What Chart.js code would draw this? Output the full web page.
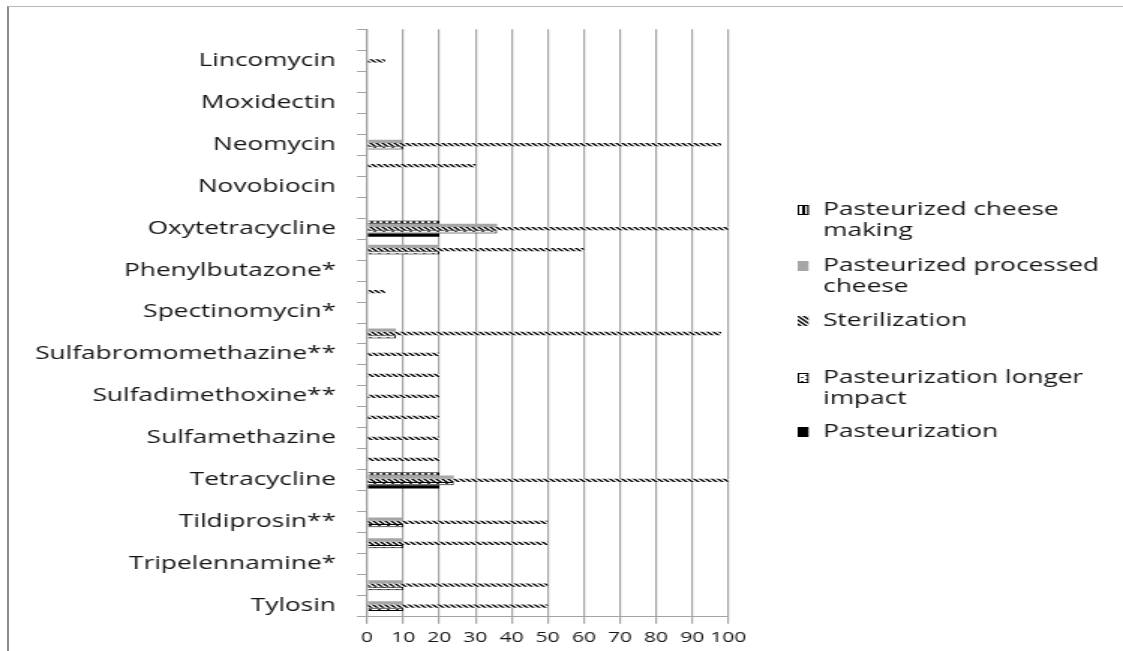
<!DOCTYPE html>
<html>
<head>
<meta charset="utf-8">
<script src="https://cdn.jsdelivr.net/npm/chart.js@4.4.0/dist/chart.umd.min.js"></script>
<style>
  html, body { margin: 0; padding: 0; background: #fff; overflow: hidden; }
  #frame { position: absolute; left: 7px; top: 6px; width: 1130px; height: 660px;
           border-left: 2px solid #8c8c8c; border-top: 1px solid #b8b8b8; }
  /* the source picture is stretched sideways, so the chart is too */
  #wrap { position: absolute; left: 0; top: 0; width: 749px; height: 651px;
          transform-origin: 0 0; transform: scaleX(1.4993); }
</style>
</head>
<body>
<div id="frame"></div>
<div id="wrap"><canvas id="DrugChart" width="749" height="651"></canvas></div>
<script>
// categories top to bottom; every other name is not shown in the source
var categories = ['', 'Lincomycin', '', 'Moxidectin', '', 'Neomycin', '', 'Novobiocin',
  '', 'Oxytetracycline', '', 'Phenylbutazone*', '', 'Spectinomycin*', '',
  'Sulfabromomethazine**', '', 'Sulfadimethoxine**', '', 'Sulfamethazine', '',
  'Tetracycline', '', 'Tildiprosin**', '', 'Tripelennamine*', '', 'Tylosin'];

var seriesNames = ['Pasteurized cheese making', 'Pasteurized processed cheese',
  'Sterilization', 'Pasteurization longer impact', 'Pasteurization'];

var cheeseMaking = [null, null, null, null, null, null, null, null, null, 20,
  null, null, null, null, null, null, null, null, null, null,
  null, 20, null, null, null, null, null, null];
var processedCheese = [null, null, null, null, null, 10, null, null, null, 36,
  20, null, null, null, 8, null, null, null, null, null,
  null, 24, null, 10, 10, null, 10, 10];
var sterilization = [null, 5, null, null, null, 98, 30, null, null, 100,
  60, null, 5, null, 98, 20, 20, 20, 20, 20,
  20, 100, null, 50, 50, null, 50, 50];
var longerImpact = [null, null, null, null, null, 10, null, null, null, 36,
  20, null, null, null, 8, null, null, null, null, null,
  null, 24, null, 10, 10, null, 10, 10];
var pasteurization = [null, null, null, null, null, null, null, null, null, 20,
  null, null, null, null, null, null, null, null, null, null,
  null, 20, null, null, null, null, null, null];

var xTicks = [0, 10, 20, 30, 40, 50, 60, 70, 80, 90, 100];

var FONT = { family: "'Open Sans'", size: 17.5 };
var TICK_FONT = { family: "'Open Sans'", size: 14 };
var TEXT = '#141414';
var GRID = '#a3a3a3';

function makePattern(w, h, draw) {
  var c = document.createElement('canvas');
  c.width = w; c.height = h;
  var g = c.getContext('2d');
  draw(g);
  return document.getElementById('DrugChart').getContext('2d').createPattern(c, 'repeat');
}

var dotsFill = makePattern(4, 4, function(g) {
  g.fillStyle = '#000'; g.fillRect(0, 0, 4, 4);
  g.fillStyle = '#fff'; g.fillRect(1, 0, 2, 4);
});
var stripeFill = makePattern(4, 4, function(g) {
  g.fillStyle = '#fff'; g.fillRect(0, 0, 4, 4);
  g.strokeStyle = '#000'; g.lineWidth = 1.4;
  g.beginPath();
  g.moveTo(-1, -1); g.lineTo(5, 5);
  g.moveTo(-1, 3); g.lineTo(1, 5);
  g.moveTo(3, -1); g.lineTo(5, 1);
  g.stroke();
});
var dashFill = makePattern(6, 4, function(g) {
  g.fillStyle = '#fff'; g.fillRect(0, 0, 6, 4);
  g.fillStyle = '#3a3a3a';
  g.fillRect(0, 1, 2, 1);
  g.fillRect(3, 3, 2, 1);
});

var styles = [
  { backgroundColor: dotsFill, borderColor: '#000', borderWidth: 1 },
  { backgroundColor: '#a6a6a6', borderWidth: 0 },
  { backgroundColor: stripeFill, borderWidth: 0 },
  { backgroundColor: dashFill, borderColor: '#000', borderWidth: 1 },
  { backgroundColor: '#000', borderWidth: 0 }
];
var values = [cheeseMaking, processedCheese, sterilization, longerImpact, pasteurization];

var datasets = seriesNames.map(function(name, i) {
  return Object.assign({
    label: name,
    data: values[i],
    barPercentage: 1,
    categoryPercentage: 0.78
  }, styles[i]);
});

function wrapText(ctx, text, maxWidth) {
  var words = text.split(' '), lines = [], line = '';
  words.forEach(function(w) {
    var test = line ? line + ' ' + w : w;
    if (line && ctx.measureText(test).width > maxWidth) { lines.push(line); line = w; }
    else line = test;
  });
  lines.push(line);
  return lines;
}

// legend laid out like the source: wrapped names, icon at the first line
var sideLegend = {
  id: 'sideLegend',
  afterDraw: function(chart) {
    var ctx = chart.ctx;
    var rows = [210, 266, 321, 378, 432];
    ctx.save();
    ctx.font = FONT.size + 'px ' + FONT.family;
    ctx.textBaseline = 'middle';
    ctx.textAlign = 'left';
    chart.data.datasets.forEach(function(ds, i) {
      var y = rows[i];
      ctx.fillStyle = ds.backgroundColor;
      ctx.fillRect(532, y - 5, 7.3, 10);
      if (ds.borderWidth) {
        ctx.strokeStyle = '#000'; ctx.lineWidth = 1;
        ctx.strokeRect(532.5, y - 4.5, 6.3, 9);
      }
      ctx.fillStyle = TEXT;
      wrapText(ctx, ds.label, 192).forEach(function(line, k) {
        ctx.fillText(line, 549, y + k * 21);
      });
    });
    ctx.restore();
  }
};

var ctx = document.getElementById('DrugChart').getContext('2d');
var config = {
  type: 'bar',
  data: { labels: categories, datasets: datasets },
  options: {
    indexAxis: 'y',
    responsive: false,
    animation: false,
    devicePixelRatio: 1,
    layout: { padding: { top: 29.3, right: 263.2, bottom: 0, left: 0 } },
    plugins: { legend: { display: false }, tooltip: { enabled: false } },
    scales: {
      x: {
        min: 0, max: 100,
        afterBuildTicks: function(s) { s.ticks = xTicks.map(function(v) { return { value: v }; }); },
        afterFit: function(s) { s.height = 34.3; },
        ticks: { font: TICK_FONT, color: TEXT, padding: 6, maxRotation: 0, autoSkip: false },
        grid: { color: GRID, lineWidth: 1.2, tickLength: 7 },
        border: { color: GRID, width: 1 }
      },
      y: {
        afterFit: function(s) { s.width = 244.8; },
        ticks: { font: FONT, color: TEXT, padding: 14, autoSkip: false },
        grid: { drawOnChartArea: false, offset: true, color: GRID, lineWidth: 1, tickLength: 6.7 },
        border: { color: GRID, width: 1.2 }
      }
    }
  },
  plugins: [sideLegend]
};

var chart = new Chart(ctx, config);
</script>
</body>
</html>
